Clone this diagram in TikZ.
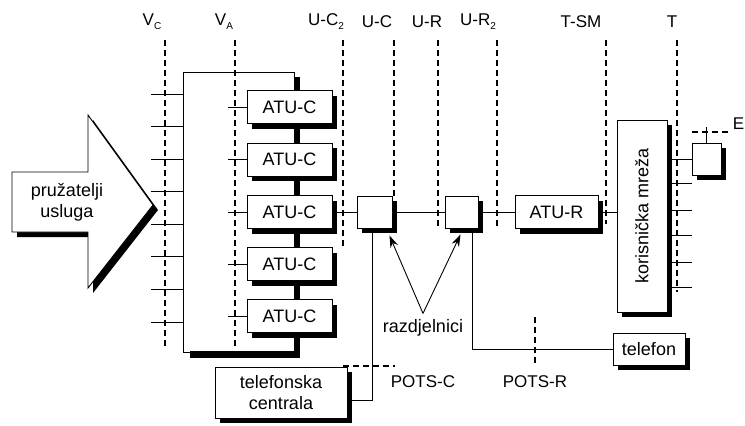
\documentclass[tikz,border=0pt]{standalone}
\usepackage{fontspec}
\setmainfont{Liberation Sans}
\usetikzlibrary{shadows,arrows.meta,calc}
\newcommand\dsub[1]{\raisebox{-0.45ex}{\fontsize{10}{10}\selectfont #1}}
\tikzset{
  box/.style={draw, fill=white, line width=0.9pt, inner sep=0pt,
    font=\fontsize{18}{21}\selectfont,
    drop shadow={shadow xshift=5pt, shadow yshift=-5pt, fill=black, opacity=1}},
  bnd/.style={line width=1.1pt, dash pattern=on 6pt off 4pt},
  wire/.style={line width=0.9pt},
  bar/.style={line width=5pt},
  lbl/.style={font=\fontsize{17}{19}\selectfont, inner sep=0pt},
  txt/.style={font=\fontsize{18}{21}\selectfont, inner sep=0pt, align=center},
  pointer/.style={line width=0.9pt, -{Stealth[length=12pt,width=8pt]}},
}
\begin{document}
\begin{tikzpicture}[x=1pt,y=-1pt]
\useasboundingbox (0,0) rectangle (745,426);

% boundary labels
\node[lbl] (lvc) at (152,22) {V\dsub{C}};
\node[lbl] (lva) at (224,22) {V\dsub{A}};
\node[lbl] (luc2) at (326,22) {U-C\dsub{2}};
\node[lbl] (luc) at (377,22) {U-C};
\node[lbl] (lur) at (427,22) {U-R};
\node[lbl] (lur2) at (478,22) {U-R\dsub{2}};
\node[lbl] (ltsm) at (581,22) {T-SM};
\node[lbl] (lt) at (672,22) {T};

% dashed boundary lines
\draw[bnd] (165,40) -- (165,348);
\draw[bnd] (235,40) -- (235,348);
\draw[bnd] (343,40) -- (343,247);
\draw[bnd] (394,40) -- (394,198);
\draw[bnd] (438,40) -- (438,226);
\draw[bnd] (497,40) -- (497,226);
\draw[bnd] (606,40) -- (606,224);
\draw[bnd] (677,40) -- (677,292);
\draw[bnd] (692,132) -- (731,132);
\draw[bnd] (343,366) -- (395,366);
\draw[bnd] (535,317) -- (535,366);

% provider arrow
\draw[wire, fill=white,
  drop shadow={shadow xshift=5pt, shadow yshift=-5pt, fill=black, opacity=1}]
  (12,172) -- (88,172) -- (88,115) -- (153,205) -- (88,288) -- (88,232) -- (12,232) -- cycle;
\node[txt] (pu) at (67,202) {pružatelji\\usluga};

% combiner bracket
\coordinate (btl) at (183,72);
\coordinate (bbl) at (183,352);
\coordinate (bt) at (294,72);
\coordinate (bb) at (294,352);
\draw[wire] (bt) -- (btl) -- (bbl) -- (bb) -- (bt);
\draw[bar] (297,77) -- (297,352);
\fill (190,351) rectangle (299.5,357.5);
\foreach \k in {0,...,7}{
  \coordinate (bs\k) at (183,94+32.57*\k);
  \draw[wire] (bs\k) -- ++(-32,0);
}

% ATU-C boxes
\foreach \i/\y in {1/107,2/159.5,3/212,4/264,5/316}{
  \node[box, minimum width=85pt, minimum height=33pt] (atu\i) at (289.5,\y) {ATU-C};
  \draw[wire] (atu\i.west) -- ++(-19,0);
}

% splitters, ATU-R, customer network
\node[box, minimum width=35pt, minimum height=32pt] (s1) at (374.5,212) {};
\node[box, minimum width=33pt, minimum height=32pt] (s2) at (461.5,212) {};
\node[box, minimum width=83pt, minimum height=33pt] (atur) at (556.5,212) {ATU-R};
\node[box, minimum width=50pt, minimum height=192pt] (km) at (642,216) {};
\node[txt, rotate=90] (kmt) at (km.center) {korisnička mreža};
\node[box, minimum width=29pt, minimum height=32pt] (ebox) at (706.5,159) {};
\node[lbl, anchor=east] (le) at (744.5,124) {E};
\node[box, minimum width=132pt, minimum height=51pt, align=center] (tc) at (281,392.5) {telefonska\\centrala};
\node[box, minimum width=72pt, minimum height=32pt] (tel) at (649,349) {telefon};

% main line
\draw[wire] (atu3.east) -- (s1.west);
\draw[wire] (s1.east) -- (s2.west);
\draw[wire] (s2.east) -- (atur.west);
\draw[wire] (atur.east) -- (atur.east -| km.west);

% customer side
\foreach \y in {183,210,235,262,287}{
  \draw[wire] (km.east |- 0,\y) -- (692,\y);
}
\draw[wire] (ebox.west -| km.east) -- (ebox.west);
\coordinate (etop) at (706.5,127);
\draw[wire] (ebox.north) -- (etop);

% POTS lines
\draw[wire] ([xshift=-2.5pt]s1.south) |- ([yshift=-7.5pt]tc.east);
\draw[wire] ([xshift=10.5pt]s2.south) |- (tel.west);

% splitter pointers
\node[txt] (raz) at (423,328) {razdjelnici};
\coordinate (apex) at ([yshift=6pt]raz.north);
\draw[pointer] (apex) -- ([xshift=-3pt,yshift=-7pt]s1.south east);
\draw[pointer] (apex) -- ([xshift=-1pt,yshift=-6pt]s2.south);

\node[lbl] (lpc) at (423,382) {POTS-C};
\node[lbl] (lpr) at (535,382) {POTS-R};
\end{tikzpicture}
\end{document}
